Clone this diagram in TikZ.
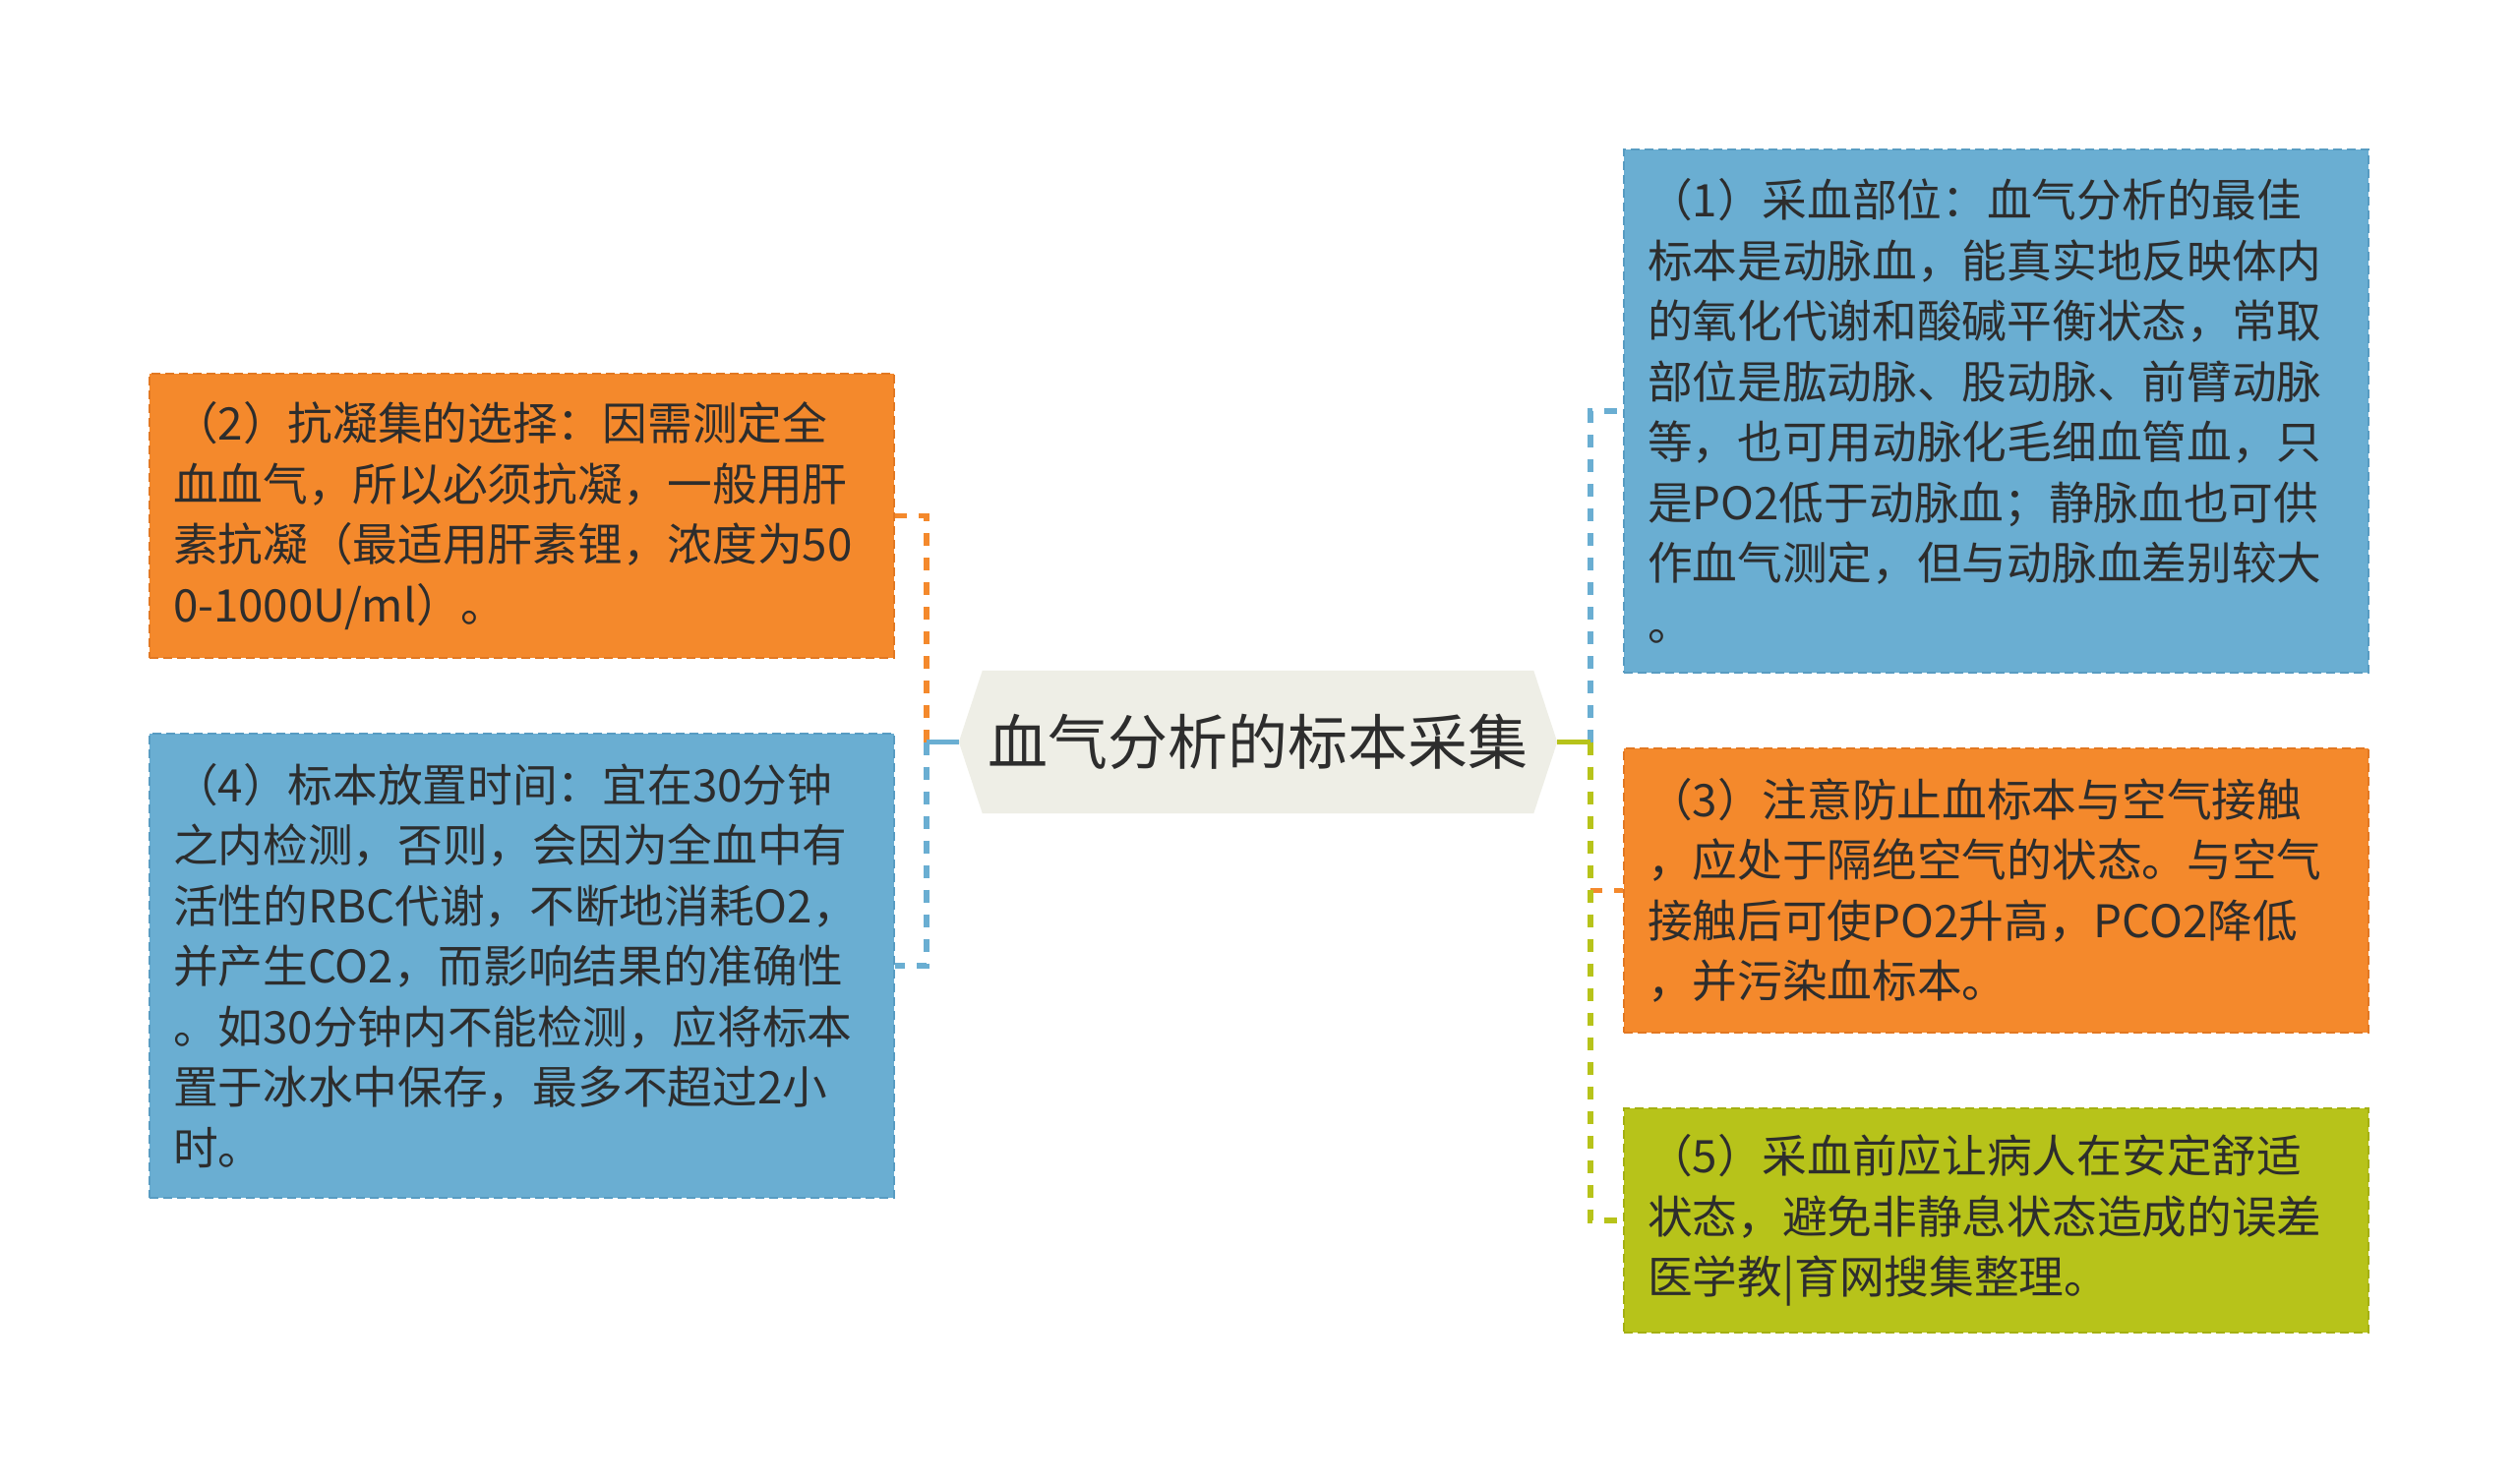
\documentclass[tikz,border=0pt]{standalone}
\usepackage{fontspec}
\setmainfont{Noto Sans CJK SC}
\usetikzlibrary{backgrounds}
\definecolor{orangeF}{RGB}{244,137,44}
\definecolor{orangeD}{RGB}{226,120,34}
\definecolor{blueF}{RGB}{106,174,210}
\definecolor{blueD}{RGB}{88,156,194}
\definecolor{greenF}{RGB}{183,195,26}
\definecolor{greenD}{RGB}{164,176,18}
\definecolor{hexF}{RGB}{238,238,230}
\definecolor{txt}{RGB}{45,45,45}
\tikzset{
  box/.style={rectangle, minimum width=757pt, text width=709pt, inner xsep=24pt, inner ysep=0pt,
    align=left, line width=2pt, dash pattern=on 9pt off 5pt, text=txt,
    font=\fontsize{45.7pt}{61.5pt}\selectfont},
  conn/.style={line width=5.5pt, dash pattern=on 13pt off 12pt},
  stem/.style={line width=5.5pt},
  central/.style={rectangle, minimum width=608pt, minimum height=145pt, inner sep=0pt,
    text=txt, font=\fontsize{61pt}{70pt}\selectfont}
}
\begin{document}
\begin{tikzpicture}[x=1pt,y=-1pt]
\useasboundingbox (0,0) rectangle (2560,1509);

% central node
\node[central] (c) at (1279,754.5) {血气分析的标本采集};
\begin{scope}[on background layer]
\fill[white] (0,0) rectangle (2560,1509);
\fill[hexF] (c.west) -- ([xshift=24pt]c.north west) -- ([xshift=-24pt]c.north east)
  -- (c.east) -- ([xshift=-24pt]c.south east) -- ([xshift=24pt]c.south west) -- cycle;
\end{scope}

% left boxes
\node[box, fill=orangeF, draw=orangeD, minimum height=289pt] (n2) at (530.5,524.5)
{（2）抗凝集的选择：因需测定全\\血血气，所以必须抗凝，一般用肝\\素抗凝（最适用肝素锂，浓度为50\\0-1000U/ml）。};
\node[box, fill=blueF, draw=blueD, minimum height=472pt] (n4) at (530.5,982)
{（4）标本放置时间：宜在30分钟\\之内检测，否则，会因为全血中有\\活性的RBC代谢，不断地消耗O2，\\并产生CO2，而影响结果的准确性\\。如30分钟内不能检测，应将标本\\置于冰水中保存，最多不超过2小\\时。};

% right boxes
\node[box, fill=blueF, draw=blueD, minimum height=532pt] (n1) at (2029.5,418)
{（1）采血部位：血气分析的最佳\\标本是动脉血，能真实地反映体内\\的氧化代谢和酸碱平衡状态，常取\\部位是肱动脉、股动脉、前臂动脉\\等，也可用动脉化毛细血管血，只\\是PO2低于动脉血；静脉血也可供\\作血气测定，但与动脉血差别较大\\。};
\node[box, fill=orangeF, draw=orangeD, minimum height=289pt] (n3) at (2029.5,905.5)
{（3）注意防止血标本与空气接触\\，应处于隔绝空气的状态。与空气\\接触后可使PO2升高，PCO2降低\\，并污染血标本。};
\node[box, fill=greenF, draw=greenD, minimum height=228pt] (n5) at (2029.5,1241)
{（5）采血前应让病人在安定舒适\\状态，避免非静息状态造成的误差\\医学教|育网搜集整理。};

% connectors
\coordinate (jl) at (942,754.5);
\coordinate (jr) at (1617,754.5);
\draw[conn, orangeF] (jl) |- (n2.east);
\draw[conn, blueF] (jl) |- (n4.east);
\draw[stem, blueF] (c.west) -- (jl);

\draw[conn, blueF] (jr) |- (n1.west);
\draw[conn, orangeF] (jr) |- (n3.west);
\draw[conn, greenF] (jr) |- (n5.west);
\draw[stem, greenF] (c.east) -- (jr);
\end{tikzpicture}
\end{document}
